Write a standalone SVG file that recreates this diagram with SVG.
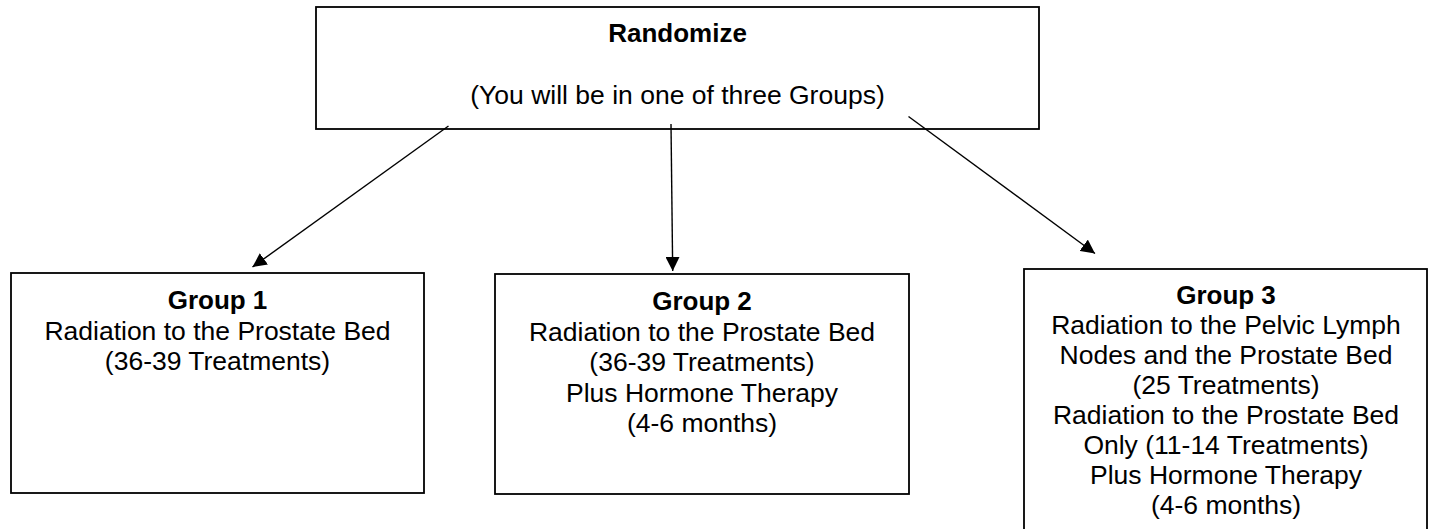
<svg xmlns="http://www.w3.org/2000/svg" width="1429" height="529" viewBox="0 0 1429 529">
<style>
.box{fill:#fff;stroke:#000;stroke-width:1.8}
.t{font-family:"Liberation Sans",Arial,sans-serif;font-size:26.5px;fill:#000;text-anchor:middle}
.b{font-weight:bold;font-size:26px}
.c{stroke:#000;stroke-width:1.4;fill:none}
</style>
<defs>
<marker id="ah" viewBox="0 0 10 10" refX="10" refY="5" markerWidth="14" markerHeight="14" markerUnits="userSpaceOnUse" orient="auto">
<path d="M0,0 L10,5 L0,10 z" fill="#000"/>
</marker>
</defs>
<rect width="1429" height="529" fill="#fff"/>
<g id="randomize">
<rect class="box" x="316" y="7" width="723" height="122"/>
<text class="t b" x="677.5" y="42">Randomize</text>
<text class="t" x="677.5" y="104">(You will be in one of three Groups)</text>
</g>
<g id="group1">
<rect class="box" x="11" y="273" width="413" height="220"/>
<text class="t b" x="217.5" y="309">Group 1</text>
<text class="t" x="217.5" y="340">Radiation to the Prostate Bed</text>
<text class="t" x="217.5" y="370">(36-39 Treatments)</text>
</g>
<g id="group2">
<rect class="box" x="495" y="274" width="414" height="220"/>
<text class="t b" x="702" y="310">Group 2</text>
<text class="t" x="702" y="340.5">Radiation to the Prostate Bed</text>
<text class="t" x="702" y="371">(36-39 Treatments)</text>
<text class="t" x="702" y="401.5">Plus Hormone Therapy</text>
<text class="t" x="702" y="432">(4-6 months)</text>
</g>
<g id="group3">
<rect class="box" x="1024" y="269" width="403" height="264"/>
<text class="t b" x="1226" y="303.5">Group 3</text>
<text class="t" x="1226" y="333.5">Radiation to the Pelvic Lymph</text>
<text class="t" x="1226" y="363.5">Nodes and the Prostate Bed</text>
<text class="t" x="1226" y="393.5">(25 Treatments)</text>
<text class="t" x="1226" y="423.5">Radiation to the Prostate Bed</text>
<text class="t" x="1226" y="453.5">Only (11-14 Treatments)</text>
<text class="t" x="1226" y="483.5">Plus Hormone Therapy</text>
<text class="t" x="1226" y="513.5">(4-6 months)</text>
</g>
<g id="connectors">
<line class="c" x1="448.5" y1="126" x2="252.5" y2="267" marker-end="url(#ah)"/>
<line class="c" x1="671" y1="124" x2="672.7" y2="271" marker-end="url(#ah)"/>
<line class="c" x1="908.5" y1="116.5" x2="1095" y2="253.5" marker-end="url(#ah)"/>
</g>
</svg>
